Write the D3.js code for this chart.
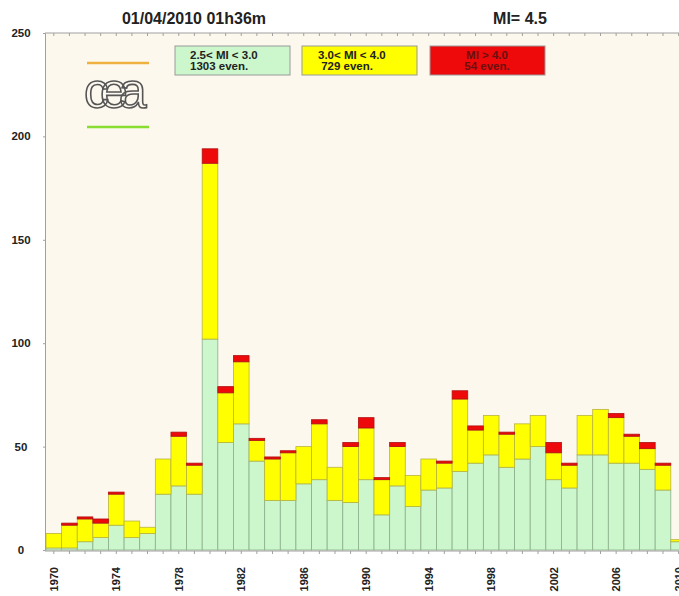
<!DOCTYPE html>
<meta charset="utf-8">
<head>
<title>Seismicity per year</title>
<style>
  body { margin: 0; background: white; }
  svg text { font-family: "Liberation Sans", Arial, sans-serif; font-weight: bold; }
</style>
</head>
<body>
<div id="chart"></div>
<script src="https://d3js.org/d3.v7.min.js"></script>
<script>

// events per year, by magnitude class
var years  = d3.range(1970, 2011);
var low    = [1,1,4,6,12,6,8,27,31,27,102,52,61,43,24,24,32,34,24,23,34,17,31,21,29,30,38,42,46,40,44,50,34,30,46,46,42,42,39,29,4];
var mid    = [7,11,11,7,15,8,3,17,24,14,85,24,30,10,20,23,18,27,16,27,25,17,19,15,15,12,35,16,19,16,17,15,13,11,19,22,22,13,10,12,1];
var high   = [0,1,1,2,1,0,0,0,2,1,7,3,3,1,1,1,0,2,0,2,5,1,2,0,0,1,4,2,0,1,0,0,5,1,0,0,2,1,3,1,0];
var yTicks = [0, 50, 100, 150, 200, 250];
var xLabels = d3.range(1970, 2011, 4);
var legendLines = [
  ["2.5< MI < 3.0", "1303 even."],
  ["3.0< MI < 4.0", " 729 even."],
  ["MI > 4.0", "54 even."]
];

var W = 679, H = 596;
var plotLeft = 45, plotTop = 33, plotBottom = 551;
var step = 15.62;

var svg = d3.select("#chart").append("svg")
    .attr("width", W)
    .attr("height", H);

var x = d3.scaleBand()
    .domain(d3.range(1970, 2013))
    .range([plotLeft + 1, plotLeft + 1 + step * 43])
    .padding(0);

var y = d3.scaleLinear()
    .domain([0, 250])
    .range([plotBottom - 1, plotTop]);

// plot background
svg.append("rect")
    .attr("x", plotLeft).attr("y", plotTop)
    .attr("width", W - plotLeft).attr("height", plotBottom - plotTop)
    .attr("fill", "#fdf8ee");

// titles
svg.append("text")
    .attr("x", 194).attr("y", 24)
    .attr("text-anchor", "middle")
    .style("font-size", "16px")
    .attr("fill", "#222")
    .text("01/04/2010 01h36m");
svg.append("text")
    .attr("x", 520).attr("y", 24)
    .attr("text-anchor", "middle")
    .style("font-size", "16px")
    .attr("fill", "#222")
    .text("MI= 4.5");

// stacked bars
var table = years.map(function(yr, i) {
  return {year: yr, low: low[i], mid: mid[i], high: high[i]};
});
var stack = d3.stack().keys(["low", "mid", "high"])(table);
var fills   = {low: "#ccf7cc", mid: "#ffff00", high: "#ee0a0a"};
var strokes = {low: "#8aae8a", mid: "#b8b43c", high: "#b01010"};

svg.append("g").selectAll("g")
  .data(stack)
  .enter().append("g")
    .attr("fill", function(d) { return fills[d.key]; })
    .attr("stroke", function(d) { return strokes[d.key]; })
    .attr("stroke-width", 0.8)
  .selectAll("rect")
  .data(function(d) { return d.filter(function(p) { return p[1] > p[0]; }); })
  .enter().append("rect")
    .attr("x", function(d) { return x(d.data.year); })
    .attr("width", x.bandwidth())
    .attr("y", function(d) { return y(d[1]); })
    .attr("height", function(d) { return y(d[0]) - y(d[1]); });

// axes
var axisColor = "#a0a0a0";
var yAxis = svg.append("g")
    .attr("transform", "translate(" + plotLeft + ",0)")
    .call(d3.axisLeft(y).tickValues(yTicks).tickSize(2).tickFormat(""));
var topAxis = svg.append("g")
    .attr("transform", "translate(0," + plotTop + ")")
    .call(d3.axisBottom(x).tickValues(d3.range(1970, 2013)).tickSize(3).tickFormat(""));
var botAxis = svg.append("g")
    .attr("transform", "translate(0," + plotBottom + ")")
    .call(d3.axisBottom(x).tickValues(d3.range(1970, 2013)).tickSize(3).tickFormat(""));
[yAxis, topAxis, botAxis].forEach(function(a) {
  a.selectAll("path, line").attr("stroke", axisColor);
});
topAxis.select("path").attr("d", "M" + plotLeft + ",0H" + W);
botAxis.select("path").attr("d", "M" + plotLeft + ",0H" + W);

svg.append("g").selectAll("text")
  .data(yTicks)
  .enter().append("text")
    .attr("x", 21)
    .attr("y", function(d) { return y(d) + 4; })
    .attr("text-anchor", "middle")
    .style("font-size", "11.5px")
    .attr("fill", "#222")
    .text(function(d) { return d; });

svg.append("g").selectAll("text")
  .data(xLabels)
  .enter().append("text")
    .attr("transform", function(d) {
      return "translate(" + (x(d) + x.bandwidth() / 2 + 4) + ",567) rotate(-90)";
    })
    .attr("text-anchor", "end")
    .style("font-size", "11px")
    .attr("fill", "#222")
    .text(function(d) { return d; });

// legend boxes
var boxes = [
  {x: 175, fill: "#ccf7cc", tx: 190, anchor: "start", color: "#222"},
  {x: 302, fill: "#ffff00", tx: 318, anchor: "start", color: "#222"},
  {x: 430, fill: "#ee0a0a", tx: 487, anchor: "middle", color: "#6a1010"}
];
var lg = svg.append("g").selectAll("g")
  .data(boxes)
  .enter().append("g");
lg.append("rect")
    .attr("x", function(d) { return d.x; })
    .attr("y", 46)
    .attr("width", 115).attr("height", 29)
    .attr("fill", function(d) { return d.fill; })
    .attr("stroke", "#999");
lg.each(function(d, i) {
  d3.select(this).selectAll("text")
    .data(legendLines[i])
    .enter().append("text")
      .attr("x", d.tx)
      .attr("y", function(t, j) { return 59 + j * 11; })
      .attr("text-anchor", d.anchor)
      .style("font-size", "11.5px")
      .style("white-space", "pre")
      .attr("fill", d.color)
      .text(function(t) { return t; });
});

// cea logo
svg.append("line")
    .attr("x1", 87).attr("x2", 149).attr("y1", 63).attr("y2", 63)
    .attr("stroke", "#f0b040").attr("stroke-width", 2.5);
svg.append("line")
    .attr("x1", 87).attr("x2", 149).attr("y1", 127).attr("y2", 127)
    .attr("stroke", "#88dd33").attr("stroke-width", 2.5);
svg.append("text")
    .attr("x", 84).attr("y", 108)
    .style("font-size", "50px")
    .style("font-weight", "normal")
    .style("letter-spacing", "-9px")
    .attr("fill", "none")
    .attr("stroke", "#555")
    .attr("stroke-width", 1.6)
    .text("cea");

</script>
</body>
